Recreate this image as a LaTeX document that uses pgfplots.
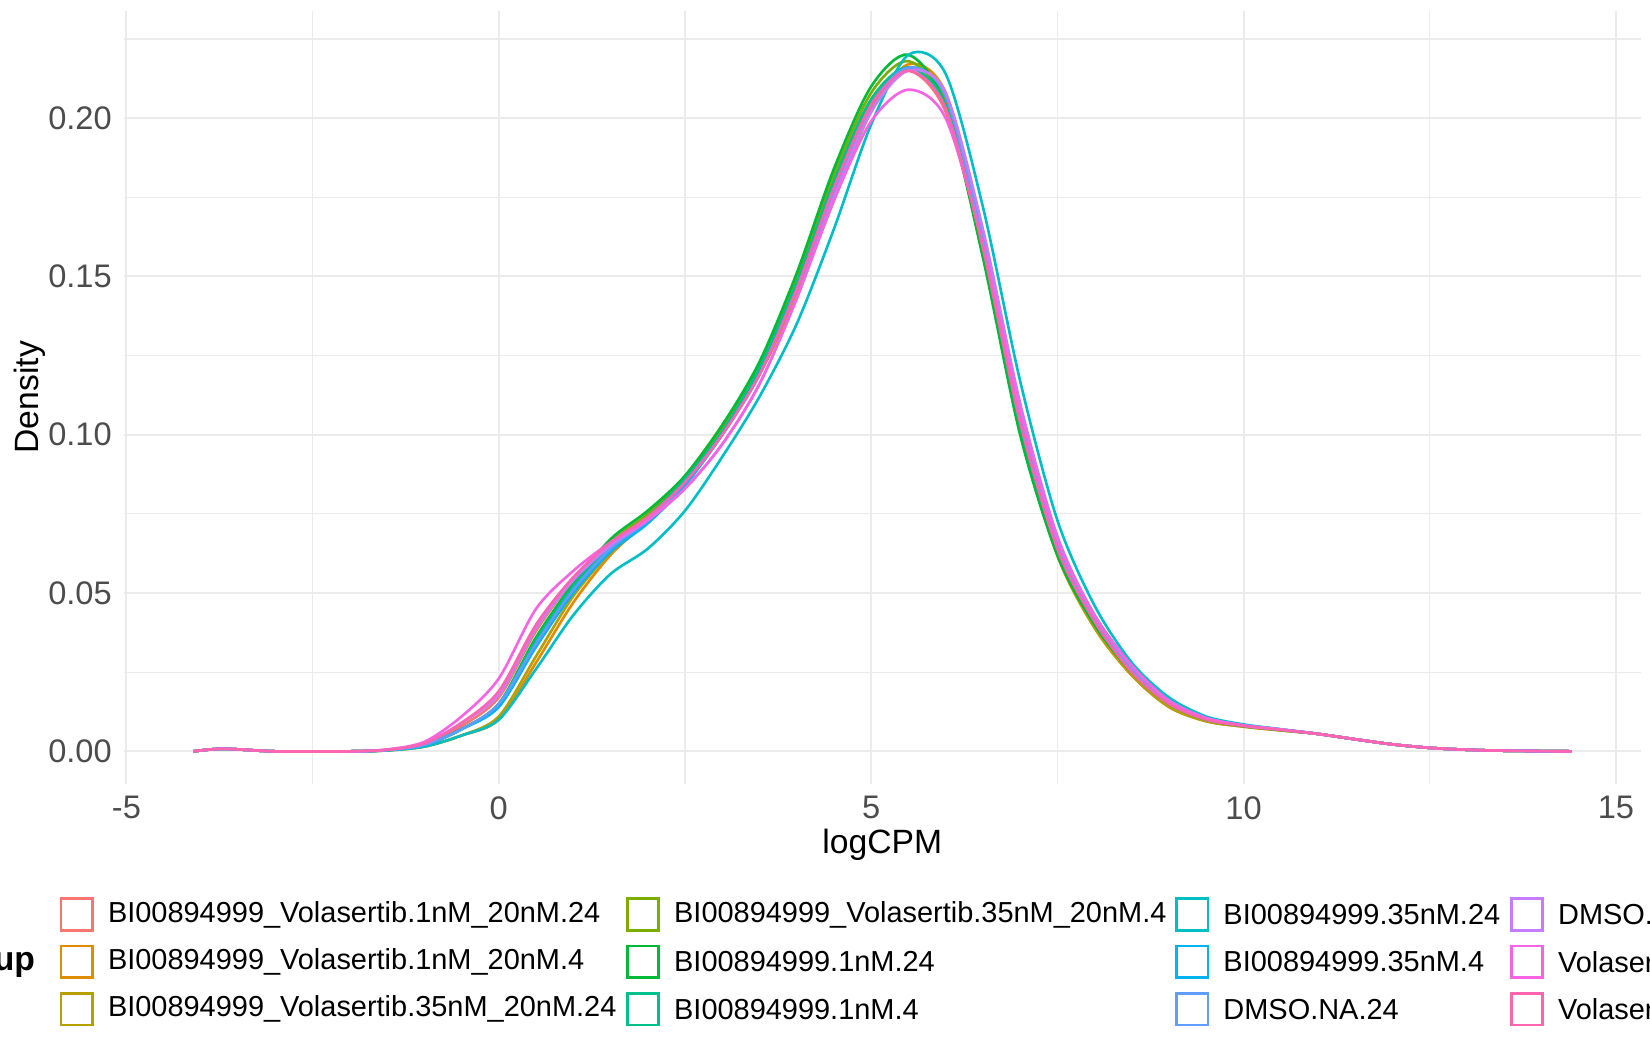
\documentclass[border=0pt]{standalone}
\usepackage{pgfplots}
\pgfplotsset{compat=1.18}
\usepackage{pgfplotstable}
\usepackage{fontspec}
\setmainfont{Liberation Sans}
\definecolor{c1}{HTML}{F8766D}\definecolor{c2}{HTML}{DE8C00}\definecolor{c3}{HTML}{B79F00}
\definecolor{c4}{HTML}{7CAE00}\definecolor{c5}{HTML}{00BA38}\definecolor{c6}{HTML}{00C08B}
\definecolor{c7}{HTML}{00BFC4}\definecolor{c8}{HTML}{00B4F0}\definecolor{c9}{HTML}{619CFF}
\definecolor{c10}{HTML}{C77CFF}\definecolor{c11}{HTML}{F564E3}\definecolor{c12}{HTML}{FF64B0}
\definecolor{gridc}{HTML}{EBEBEB}
\pgfplotstableread{
x a b c d e f g h i j k l
-4.1 0 0 0 0 0 0 0 0 0 0 0 0
-3.7 .0008 .0008 .0008 .0008 .0008 .0008 .0008 .0008 .0008 .0008 .0008 .0008
-3 0 0 0 0 0 0 0 0 0 0 0 0
-2 0 0 0 0 0 0 0 0 0 0 0 0
-1.5 .0004 .0003 .0003 .0004 .0004 .0004 .0003 .0004 .0004 .0005 .0006 .0005
-1 .002 .0015 .0015 .002 .002 .002 .0015 .002 .002 .0025 .003 .0025
-0.5 .008 .005 .005 .007 .007 .007 .005 .007 .007 .009 .011 .009
0 .017 .010 .011 .015 .015 .015 .010 .014 .015 .018 .023 .019
0.5 .038 .028 .030 .035 .036 .035 .026 .033 .034 .039 .045 .040
1 .054 .047 .049 .052 .053 .052 .043 .050 .051 .054 .057 .055
1.5 .065 .062 .063 .066 .067 .065 .056 .063 .064 .065 .066 .066
2 .074 .073 .074 .075 .076 .074 .064 .072 .073 .073 .073 .074
2.5 .085 .086 .086 .087 .087 .086 .076 .084 .085 .083 .083 .085
3 .100 .102 .102 .103 .103 .101 .093 .100 .100 .097 .097 .100
3.5 .120 .119 .120 .122 .123 .121 .112 .119 .119 .116 .116 .119
4 .148 .144 .146 .150 .151 .148 .135 .146 .146 .143 .143 .146
4.5 .180 .174 .176 .182 .184 .180 .165 .177 .177 .175 .174 .178
5 .205 .202 .203 .208 .210 .206 .198 .204 .204 .202 .199 .204
5.5 .215 .217 .216 .218 .220 .216 .220 .216 .216 .215 .209 .215
6 .202 .208 .206 .204 .204 .204 .214 .207 .207 .208 .200 .203
6.5 .158 .161 .160 .157 .156 .159 .172 .163 .162 .165 .160 .159
7 .104 .103 .103 .101 .100 .103 .117 .108 .107 .110 .108 .104
7.5 .064 .062 .062 .062 .062 .064 .073 .067 .066 .068 .067 .064
8 .041 .039 .039 .040 .040 .041 .046 .043 .042 .043 .043 .041
8.5 .025 .024 .024 .025 .025 .025 .028 .027 .026 .027 .027 .025
9 .015 .014 .014 .015 .015 .015 .017 .016 .016 .016 .016 .015
9.5 .010 .0095 .0095 .010 .010 .010 .011 .0105 .0105 .0105 .0105 .010
10 .008 .0078 .0078 .008 .008 .008 .0085 .0082 .0082 .0082 .0082 .008
10.5 .0068 .0066 .0066 .0068 .0068 .0068 .007 .0069 .0069 .0069 .0069 .0068
11 .0055 .0055 .0055 .0055 .0055 .0055 .0055 .0055 .0055 .0055 .0055 .0055
11.5 .0038 .0038 .0038 .0038 .0038 .0038 .0038 .0038 .0038 .0038 .0038 .0038
12 .0022 .0022 .0022 .0022 .0022 .0022 .0022 .0022 .0022 .0022 .0022 .0022
12.5 .0011 .0011 .0011 .0011 .0011 .0011 .0011 .0011 .0011 .0011 .0011 .0011
13 .0005 .0005 .0005 .0005 .0005 .0005 .0005 .0005 .0005 .0005 .0005 .0005
13.5 .0002 .0002 .0002 .0002 .0002 .0002 .0002 .0002 .0002 .0002 .0002 .0002
14.4 0 0 0 0 0 0 0 0 0 0 0 0
}\dens
\begin{document}
\begin{tikzpicture}[x=0.3pt,y=0.3pt,font=\fontsize{8.25}{10}\selectfont]
\clip (0,0) rectangle (1568,990);
\begin{axis}[at={(35.4pt,73.5pt)},anchor=south west,scale only axis,
 width=432.3pt,height=220.5pt,
 xmin=-5.03,xmax=15.33,ymin=-0.0103,ymax=0.234,
 axis line style={draw=none},tick style={draw=none},
 xtick={-5,0,5,10,15},ytick={0,0.05,0.1,0.15,0.2},
 minor xtick={-2.5,2.5,7.5,12.5},minor ytick={0.025,0.075,0.125,0.175,0.225},
 grid=both,major grid style={gridc,line width=0.6pt},minor grid style={gridc,line width=0.3pt},
 yticklabel style={/pgf/number format/.cd,fixed,fixed zerofill,precision=2},
 /pgf/number format/assume math mode=true,
 ticklabel style={text=black!70,font=\fontsize{9.3}{11}\selectfont},
 xlabel={logCPM},ylabel={Density},
 label style={font=\fontsize{9.6}{11}\selectfont},
 xlabel style={yshift=4pt},ylabel style={yshift=-6pt},
 every axis plot/.append style={smooth,line width=0.75pt,no markers}]
\addplot[c1] table[x=x,y=a]{\dens};
\addplot[c2] table[x=x,y=b]{\dens};
\addplot[c3] table[x=x,y=c]{\dens};
\addplot[c4] table[x=x,y=d]{\dens};
\addplot[c5] table[x=x,y=e]{\dens};
\addplot[c6] table[x=x,y=f]{\dens};
\addplot[c7] table[x=x,y=g]{\dens};
\addplot[c8] table[x=x,y=h]{\dens};
\addplot[c9] table[x=x,y=i]{\dens};
\addplot[c10] table[x=x,y=j]{\dens};
\addplot[c11] table[x=x,y=k]{\dens};
\addplot[c12] table[x=x,y=l]{\dens};
\end{axis}
\node[anchor=east,font=\fontsize{9.6}{11}\selectfont\bfseries] at (45,76) {Group};
\foreach \c/\xx/\yy/\t in {c1/73/121/BI00894999\_Volasertib.1nM\_20nM.24, c2/73/76/BI00894999\_Volasertib.1nM\_20nM.4, c3/73/31/BI00894999\_Volasertib.35nM\_20nM.24,
 c4/611/121/BI00894999\_Volasertib.35nM\_20nM.4, c5/611/76/BI00894999.1nM.24, c6/611/31/BI00894999.1nM.4,
 c7/1133/121/BI00894999.35nM.24, c8/1133/76/BI00894999.35nM.4, c9/1133/31/DMSO.NA.24,
 c10/1451/121/DMSO.NA.4, c11/1451/76/Volasertib.20nM.24, c12/1451/31/Volasertib.20nM.4}{
 \draw[\c,line width=0.8pt] (\xx-15,\yy-15) rectangle (\xx+15,\yy+15);
 \node[anchor=west,inner sep=0pt] at (\xx+29,\yy) {\t};
}
\end{tikzpicture}
\end{document}
